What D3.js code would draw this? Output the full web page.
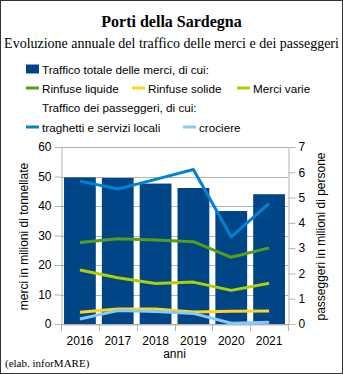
<!DOCTYPE html>
<html>
<head>
<meta charset="utf-8">
<script src="https://cdn.jsdelivr.net/npm/d3@7"></script>
<style>
  body { margin: 0; background: #fff; }
  svg text { font-family: "Liberation Sans", Arial, sans-serif; fill: #000; }
  .serif { font-family: "Liberation Serif", "Times New Roman", serif; }
</style>
</head>
<body>
<svg id="chart" width="343" height="374"></svg>
<script>
// data
const years = ["2016", "2017", "2018", "2019", "2020", "2021"];
const merciTotale = [49.7, 49.5, 47.6, 46.1, 38.3, 44.0];
const rinfuseLiquide = [27.6, 28.9, 28.5, 27.9, 22.6, 25.8];
const rinfuseSolide = [4.0, 5.1, 5.1, 4.1, 4.3, 4.4];
const merciVarie = [18.3, 15.7, 13.7, 14.2, 11.4, 13.8];
const traghetti = [5.65, 5.34, 5.72, 6.11, 3.45, 4.77];
const crociere = [0.2, 0.53, 0.49, 0.42, 0.03, 0.07];
const leftTicks = [0, 10, 20, 30, 40, 50, 60];
const rightTicks = [0, 1, 2, 3, 4, 5, 6, 7];

const svg = d3.select("#chart");
const W = 343, H = 374;

// frame
svg.append("rect")
  .attr("x", 0.5).attr("y", 0.5)
  .attr("width", W - 1).attr("height", H - 1)
  .attr("fill", "#fff").attr("stroke", "#333");

// titles
svg.append("text").attr("class", "serif")
  .attr("x", W / 2).attr("y", 27)
  .attr("text-anchor", "middle")
  .style("font-size", "16px").style("font-weight", "bold")
  .text("Porti della Sardegna");
svg.append("text").attr("class", "serif")
  .attr("x", W / 2).attr("y", 48)
  .attr("text-anchor", "middle")
  .style("font-size", "14px")
  .text("Evoluzione annuale del traffico delle merci e dei passeggeri");

// legend
const legend = svg.append("g").style("font-size", "11.7px");
const legendItems = [
  { label: "Traffico totale delle merci, di cui:", color: "#004586", x: 26, y: 69, box: true },
  { label: "Rinfuse liquide", color: "#579d1c", x: 26, y: 88 },
  { label: "Rinfuse solide", color: "#ffd320", x: 132, y: 88 },
  { label: "Merci varie", color: "#aecf00", x: 237, y: 88 },
  { label: "Traffico dei passeggeri, di cui:", color: null, x: 26, y: 107 },
  { label: "traghetti e servizi locali", color: "#0084d1", x: 26, y: 127 },
  { label: "crociere", color: "#83caff", x: 183, y: 127 }
];
legendItems.forEach(d => {
  if (d.box) {
    legend.append("rect").attr("x", d.x).attr("y", d.y - 4.5)
      .attr("width", 13).attr("height", 9).attr("fill", d.color);
  } else if (d.color) {
    legend.append("line").attr("x1", d.x).attr("x2", d.x + 13)
      .attr("y1", d.y).attr("y2", d.y)
      .attr("stroke", d.color).attr("stroke-width", 3);
  }
  legend.append("text").attr("x", d.x + 16).attr("y", d.y + 4.5).text(d.label);
});

// plot area
const plot = { left: 61, right: 288, top: 147, bottom: 324 };

const x = d3.scaleBand().domain(years)
  .range([plot.left, plot.right]).paddingInner(0.16).paddingOuter(0.08);
const xb = d3.scaleBand().domain(years).range([plot.left, plot.right]);
const yL = d3.scaleLinear().domain([0, 60]).range([plot.bottom, plot.top]);
const yR = d3.scaleLinear().domain([0, 7]).range([plot.bottom, plot.top]);

// grid
svg.append("g").selectAll("line").data(leftTicks).join("line")
  .attr("x1", plot.left).attr("x2", plot.right)
  .attr("y1", d => Math.round(yL(d)) + 0.5).attr("y2", d => Math.round(yL(d)) + 0.5)
  .attr("stroke", "#b3b3b3");

// bars
svg.append("g").selectAll("rect").data(merciTotale).join("rect")
  .attr("x", (d, i) => x(years[i]))
  .attr("width", x.bandwidth())
  .attr("y", d => yL(d))
  .attr("height", d => yL(0) - yL(d))
  .attr("fill", "#004586");

// axes
const axisL = svg.append("g")
  .attr("transform", `translate(${plot.left + 0.5},0)`)
  .call(d3.axisLeft(yL).tickValues(leftTicks).tickFormat(d3.format("d"))
    .tickSizeInner(7).tickSizeOuter(0).tickPadding(3));
const axisR = svg.append("g")
  .attr("transform", `translate(${plot.right + 0.5},0)`)
  .call(d3.axisRight(yR).tickValues(rightTicks).tickFormat(d3.format("d"))
    .tickSizeInner(7).tickSizeOuter(0).tickPadding(3));
const axisX = svg.append("g")
  .attr("transform", `translate(0,${plot.bottom + 0.5})`)
  .call(d3.axisBottom(xb).tickSize(0).tickPadding(12));
// band boundary ticks on x
svg.append("g").selectAll("line").data(d3.range(years.length + 1)).join("line")
  .attr("x1", i => Math.round(plot.left + i * xb.step()) + 0.5)
  .attr("x2", i => Math.round(plot.left + i * xb.step()) + 0.5)
  .attr("y1", plot.bottom).attr("y2", plot.bottom + 7)
  .attr("stroke", "#b3b3b3");

[axisL, axisR, axisX].forEach(a => {
  a.selectAll(".domain").attr("stroke", "#b3b3b3");
  a.selectAll(".tick line").attr("stroke", "#b3b3b3");
  a.selectAll("text").style("font-size", "12px").attr("fill", "#000")
    .style("font-family", "'Liberation Sans', Arial, sans-serif");
});

// lines
const lineL = d3.line().x((d, i) => xb(years[i]) + xb.bandwidth() / 2).y(d => yL(d));
const lineR = d3.line().x((d, i) => xb(years[i]) + xb.bandwidth() / 2).y(d => yR(d));
const series = [
  { vals: rinfuseLiquide, color: "#579d1c", gen: lineL },
  { vals: merciVarie, color: "#aecf00", gen: lineL },
  { vals: rinfuseSolide, color: "#ffd320", gen: lineL },
  { vals: traghetti, color: "#0084d1", gen: lineR },
  { vals: crociere, color: "#83caff", gen: lineR }
];
series.forEach(s => {
  svg.append("path").attr("d", s.gen(s.vals))
    .attr("fill", "none").attr("stroke", s.color)
    .attr("stroke-width", 3).attr("stroke-linejoin", "round");
});

// axis titles
const midY = (plot.top + plot.bottom) / 2 + 1;
svg.append("text")
  .attr("transform", `translate(28,${midY}) rotate(-90)`)
  .attr("text-anchor", "middle").style("font-size", "12px")
  .text("merci in milioni di tonnellate");
svg.append("text")
  .attr("transform", `translate(325,${midY}) rotate(-90)`)
  .attr("text-anchor", "middle").style("font-size", "12px")
  .text("passeggeri in milioni di persone");
svg.append("text")
  .attr("x", (plot.left + plot.right) / 2).attr("y", 358)
  .attr("text-anchor", "middle").style("font-size", "12px")
  .text("anni");

svg.append("text").attr("class", "serif")
  .attr("x", 5).attr("y", 367)
  .style("font-size", "11px").attr("fill", "#333")
  .text("(elab. inforMARE)");
</script>
</body>
</html>
